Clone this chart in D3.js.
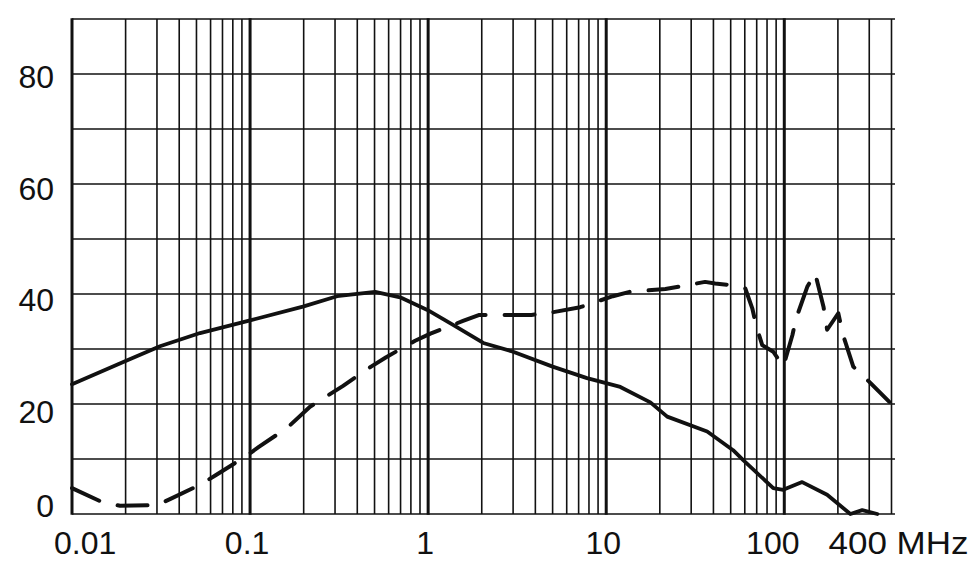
<!DOCTYPE html>
<html>
<head>
<meta charset="utf-8">
<script src="https://cdn.jsdelivr.net/npm/d3@7"></script>
<style>
  html, body { margin: 0; padding: 0; background: #fff; }
  svg { display: block; }
  text { font-family: "Liberation Sans", Arial, sans-serif; fill: #111; }
</style>
</head>
<body>
<svg id="chart" width="977" height="578"></svg>
<script>
// ---- data ----
const solidFreq = [0.01, 0.02, 0.0312, 0.0524, 0.1, 0.198, 0.308, 0.504, 0.696, 0.99, 1.38, 2.04, 3.0, 5.0, 7.8, 12, 17.7, 22, 36.9, 51.6, 58.8, 86.7, 98.6, 126, 174, 235, 274, 333];
const solidDb   = [23.6, 27.8, 30.5, 32.9, 35.2, 37.7, 39.6, 40.4, 39.4, 37.1, 34.4, 31.1, 29.5, 26.8, 24.7, 23.1, 20.3, 17.7, 15.0, 11.6, 9.8, 4.7, 4.4, 5.8, 3.5, 0, 0.7, 0];

const dashFreq = [0.01, 0.0149, 0.0186, 0.030, 0.0355, 0.0537, 0.0644, 0.0937, 0.112, 0.162, 0.217, 0.333, 0.478, 0.581, 0.845, 1.03, 1.57, 1.94, 2.95, 3.8, 4.66, 7.14, 10.9, 13.6, 21.5, 35.9, 40.9, 51, 60.4, 66.1, 69.7, 75.2, 86.7, 98.7, 111, 116.7, 134.6, 149, 166, 174, 201, 214, 244, 292, 400];
const dashDb   = [4.7, 2.1, 1.5, 1.6, 2.7, 5.5, 7.1, 10.4, 12.2, 15.7, 19.5, 23.3, 26.8, 28.5, 31.5, 32.8, 35.1, 36.2, 36.2, 36.2, 36.5, 37.6, 39.6, 40.4, 40.9, 42.2, 41.9, 41.6, 41.0, 37.4, 34.1, 30.7, 29.5, 26.8, 32.5, 35.6, 41.3, 43.8, 37.7, 33.5, 36.5, 32.5, 26.8, 24.4, 20.0];

const yTickValues = [0, 20, 40, 60, 80];
const yTickLabels = ["0", "20", "40", "60", "80"];
const yGridValues = [0, 10, 20, 30, 40, 50, 60, 70, 80, 90];
const xTickValues = [0.01, 0.1, 1, 10, 100, 400];
const xTickLabels = ["0.01", "0.1", "1", "10", "100", "400 MHz"];
const xMinorValues = [0.02,0.03,0.04,0.05,0.06,0.07,0.08,0.09,
                      0.2,0.3,0.4,0.5,0.6,0.7,0.8,0.9,
                      2,3,4,5,6,7,8,9,
                      20,30,40,50,60,70,80,90,
                      200,300,400];
const xDecadeValues = [0.01, 0.1, 1, 10, 100];

// ---- layout ----
const svg = d3.select("#chart");
const x = d3.scaleLog().domain([0.01, 400]).range([72, 891.5]);
const y = d3.scaleLinear().domain([0, 90]).range([514, 19]);
const ink = "#111";

const g = svg.append("g");

// horizontal grid
g.selectAll("line.h").data(yGridValues).join("line")
  .attr("x1", x(0.01)).attr("x2", x(400) + 3.5)
  .attr("y1", d => y(d)).attr("y2", d => y(d))
  .attr("stroke", ink).attr("stroke-width", 1.6);

// minor vertical grid
g.selectAll("line.vm").data(xMinorValues).join("line")
  .attr("x1", d => x(d)).attr("x2", d => x(d))
  .attr("y1", y(90)).attr("y2", y(0))
  .attr("stroke", ink).attr("stroke-width", 1.6);

// decade vertical grid
g.selectAll("line.vd").data(xDecadeValues).join("line")
  .attr("x1", d => x(d)).attr("x2", d => x(d))
  .attr("y1", y(90) - 0.8).attr("y2", y(0) + 0.8)
  .attr("stroke", ink).attr("stroke-width", 3);

// curves
const line = d3.line().x(d => x(d[0])).y(d => y(d[1]));

const solidPts = solidFreq.map((f, i) => [f, solidDb[i]]);
const dashPts = dashFreq.map((f, i) => [f, dashDb[i]]);

g.append("path").datum(solidPts)
  .attr("d", line).attr("fill", "none")
  .attr("stroke", ink).attr("stroke-width", 3.8)
  .attr("stroke-linejoin", "round").attr("stroke-linecap", "round");

g.append("path").datum(dashPts)
  .attr("d", line).attr("fill", "none")
  .attr("stroke", ink).attr("stroke-width", 4)
  .attr("stroke-dasharray", "30,19")
  .attr("stroke-linejoin", "round").attr("stroke-linecap", "round");

// y labels
g.selectAll("text.yl").data(yTickValues).join("text")
  .attr("x", 54)
  .attr("y", d => (d === 0 ? y(d) - 9 : y(d) + 2.5 + (80 - d) / 60 * 4.5) + 11.5)
  .attr("text-anchor", "end")
  .attr("font-size", 32)
  .text((d, i) => yTickLabels[i]);

// x labels
const last = xTickValues.length - 1;
const xl = g.selectAll("text.xl").data(xTickValues).join("text")
  .attr("x", (d, i) => {
    if (i === 0) return x(d) - 18;
    if (i === last) return x(d) - 63;
    if (d === 100) return x(d) - 11.5;
    return x(d) - 3;
  })
  .attr("y", 554)
  .attr("text-anchor", (d, i) => (i === 0 || i === last) ? "start" : "middle")
  .attr("font-size", 32)
  .text((d, i) => xTickLabels[i]);
xl.filter((d, i) => i === last)
  .attr("textLength", 140)
  .attr("lengthAdjust", "spacingAndGlyphs");
</script>
</body>
</html>
